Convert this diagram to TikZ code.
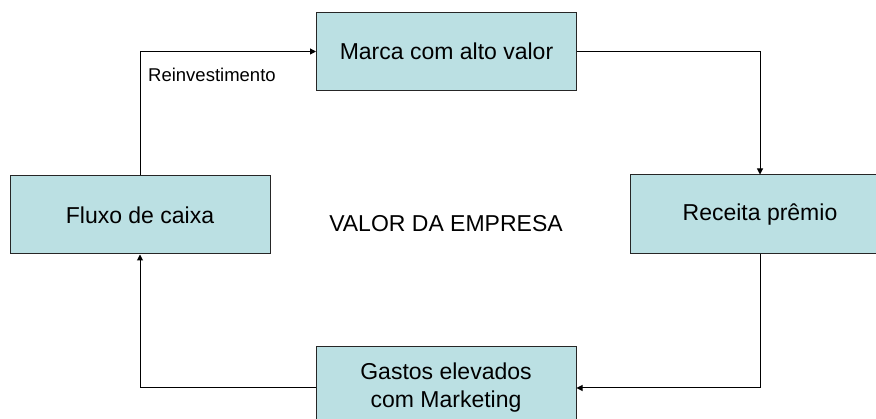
\documentclass[tikz,border=0pt]{standalone}
\usepackage{fontspec}
\setmainfont{Liberation Sans}
\usetikzlibrary{arrows.meta,
  positioning
}
\definecolor{boxfill}{RGB}{187,224,227}
\tikzset{
  etapa/.style={draw=black!85, line width=1, fill=boxfill, minimum width=260, minimum height=78,
    inner sep=0, align=center, font=\fontsize{23}{28}\selectfont},
  fluxo/.style={-{Triangle[length=6, width=6]}, line width=1},
}

\begin{document}
\begin{tikzpicture}[x=1pt, y=-1pt]
  \useasboundingbox (0,0) rectangle (876,419);
  \clip (0,0) rectangle (876,419);

  % caixas
  \node[etapa] (marca) at (446.5,51.5) {Marca com alto valor};
  \node[etapa, minimum height=79] (receita) at (760,214.5) {Receita pr\^emio};
  \node[etapa] (caixa) at (140,215) {Fluxo de caixa};
  \node[etapa, minimum height=82] (gastos) at (446,388) {Gastos elevados\\com Marketing};

  \node[font=\fontsize{23}{28}\selectfont] (valor) at (446,224) {VALOR DA EMPRESA};
  \node[anchor=base west, inner sep=0, font=\fontsize{18.5}{22}\selectfont] (reinv) at (148,82) {Reinvestimento};

  % ciclo
  \draw[fluxo] (marca.east) -| (receita.north);
  \draw[fluxo] (receita.south) |- (gastos.east);
  \draw[fluxo] (gastos.west) -| (caixa.south);
  \draw[fluxo] (caixa.north) |- (marca.west);
\end{tikzpicture}
\end{document}
